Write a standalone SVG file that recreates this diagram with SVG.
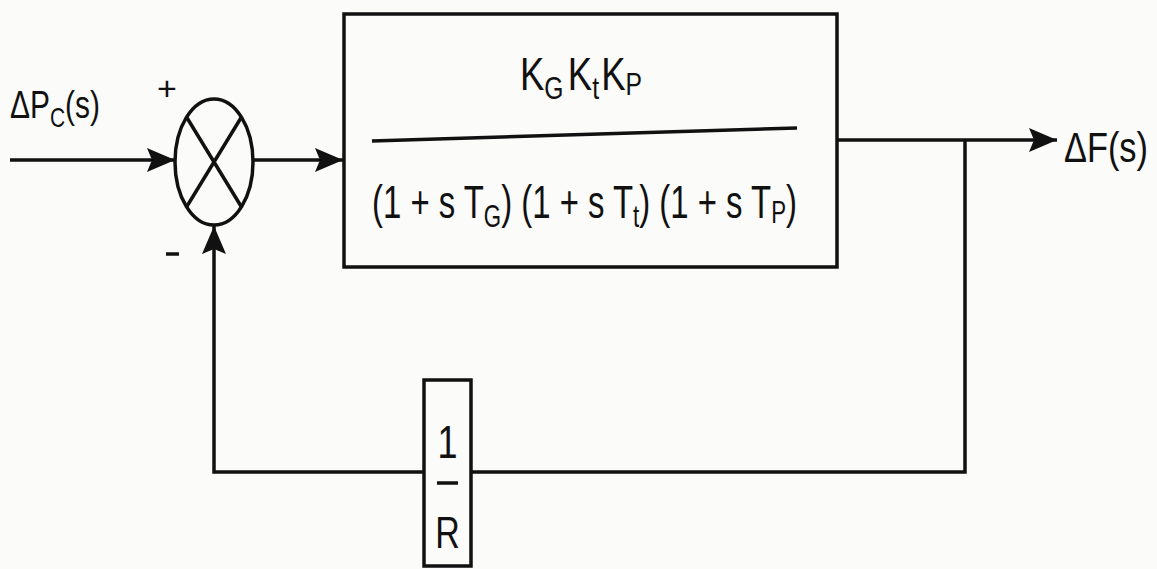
<svg xmlns="http://www.w3.org/2000/svg" width="1157" height="569" viewBox="0 0 1157 569">
<style>
.ln{stroke:#111;stroke-width:3.5;fill:none}
.bx{stroke:#111;stroke-width:3.5;fill:none}
.t{font-family:"Liberation Sans",Arial,sans-serif;fill:#111}
</style>
<defs>
<marker id="ah" viewBox="0 0 28 24" refX="28" refY="12" markerWidth="28" markerHeight="24" markerUnits="userSpaceOnUse" orient="auto">
<path d="M0,0 L28,12 L0,24 L5,12 Z" fill="#111"/>
</marker>
</defs>
<rect width="1157" height="569" fill="#fbfbf9"/>
<g id="connectors">
<line class="ln" x1="10" y1="160" x2="175" y2="160" marker-end="url(#ah)"/>
<line class="ln" x1="254" y1="160" x2="343" y2="160" marker-end="url(#ah)"/>
<line class="ln" x1="837" y1="140" x2="1057" y2="140" marker-end="url(#ah)"/>
<polyline class="ln" points="965,140 965,472 471,472"/>
<polyline class="ln" points="424,472 214,472 214,226" marker-end="url(#ah)"/>
</g>
<g id="input-label">
<text class="t" transform="translate(10,118) scale(1,1.3)" font-size="30" textLength="90" lengthAdjust="spacingAndGlyphs">ΔP<tspan font-size="21" dy="7">C</tspan><tspan dy="-7">(s)</tspan></text>
</g>
<g id="summing-junction">
<ellipse class="bx" cx="214" cy="162" rx="39" ry="63"/>
<line class="ln" x1="186.5" y1="117" x2="241.5" y2="207"/>
<line class="ln" x1="241.5" y1="117" x2="186.5" y2="207"/>
<text class="t" x="167" y="100" font-size="34" text-anchor="middle">+</text>
<line class="ln" x1="166" y1="254" x2="179" y2="254"/>
</g>
<g id="plant-block">
<rect class="bx" x="344" y="14" width="493" height="253"/>
<text class="t" transform="translate(520,90) scale(1,1.35)" font-size="34" textLength="122" lengthAdjust="spacingAndGlyphs">K<tspan font-size="23" dy="7">G</tspan><tspan dy="-7" dx="4">K</tspan><tspan font-size="23" dy="7">t</tspan><tspan dy="-7" dx="2">K</tspan><tspan font-size="23" dy="4">P</tspan></text>
<line class="ln" x1="372" y1="141" x2="797" y2="128"/>
<text class="t" transform="translate(372,218) scale(1,1.35)" font-size="34" textLength="425" lengthAdjust="spacingAndGlyphs">(1 + s T<tspan font-size="23" dy="7">G</tspan><tspan dy="-7">) (1 + s T</tspan><tspan font-size="23" dy="7">t</tspan><tspan dy="-7">) (1 + s T</tspan><tspan font-size="23" dy="4">P</tspan><tspan dy="-4">)</tspan></text>
</g>
<g id="output-label">
<text class="t" transform="translate(1064,162) scale(1,1.3)" font-size="32" textLength="84" lengthAdjust="spacingAndGlyphs">ΔF(s)</text>
</g>
<g id="feedback-block">
<rect class="bx" x="424" y="380" width="47" height="186"/>
<text class="t" transform="translate(447.5,458) scale(1,1.3)" font-size="36" text-anchor="middle">1</text>
<line class="ln" x1="437" y1="483" x2="458" y2="483"/>
<text class="t" transform="translate(447.5,548) scale(1,1.3)" font-size="34" text-anchor="middle">R</text>
</g>
</svg>
